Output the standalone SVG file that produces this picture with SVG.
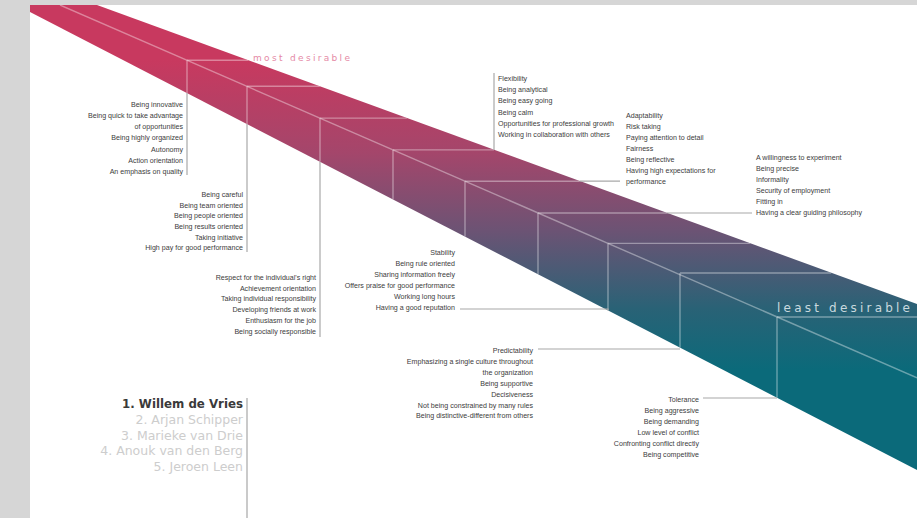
<svg xmlns="http://www.w3.org/2000/svg" width="917" height="518" viewBox="0 0 917 518">
<defs>
<linearGradient id="bandGrad" gradientUnits="userSpaceOnUse" x1="0" y1="60" x2="0" y2="370">
<stop offset="0" stop-color="#c8395f"/>
<stop offset="0.3" stop-color="#a4466b"/>
<stop offset="0.55" stop-color="#6c5374"/>
<stop offset="0.8" stop-color="#2a6276"/>
<stop offset="1" stop-color="#0b6a7a"/>
</linearGradient>
<clipPath id="bandClip"><polygon points="30,5 97,5 917,304 917,470 30,12"/></clipPath>
</defs>
<style>
.bl{stroke:#ffffff;stroke-opacity:0.38;stroke-width:1.4;fill:none}
.ld{stroke:#a8a8a8;stroke-width:1.2;fill:none}
.t{font-family:"Liberation Sans",Arial,sans-serif;font-size:7.1px;fill:#3c3c3c}
.r{text-anchor:end}
.nm{font-family:"DejaVu Sans",Verdana,sans-serif;font-size:12.5px;text-anchor:end;fill:#cdcdcd}
</style>
<rect x="0" y="0" width="917" height="518" fill="#ffffff"/>
<g id="band">
<polygon points="30,5 97,5 917,304 917,470 30,12" fill="url(#bandGrad)"/>
<g clip-path="url(#bandClip)">
<line class="bl" x1="60" y1="5" x2="917" y2="377.8"/>
<path class="bl" d="M187,60.2 V93.1 M187,60.2 H248.2 M247,86.3 V124.1 M247,86.3 H319.8 M320,118.1 V161.8 M320,118.1 H406.9 M393,149.9 V199.5 M393,149.9 H494 M465,181.2 V236.6 M465,181.2 H579.7 M538,213 V274.3 M538,213 H666.9 M608,243.4 V310.5 M608,243.4 H750.2 M680,273 V347.7 M680,273 H831.2 M777,317 V397.7 M777,317 H917"/>
</g>
</g>
<g id="frame">
<rect x="0" y="0" width="30" height="518" fill="#d6d6d6"/>
<rect x="0" y="0" width="917" height="5" fill="#d6d6d6"/>
</g>
<g id="labels">
<text x="253" y="61" font-family="DejaVu Sans,Verdana,sans-serif" font-size="9" fill="#e58aa6" textLength="97" lengthAdjust="spacing">most desirable</text>
<text x="777" y="312" font-family="DejaVu Sans,Verdana,sans-serif" font-size="12" fill="#c9d9df" textLength="133" lengthAdjust="spacing">least desirable</text>
</g>
<g id="connectors">
<line class="ld" x1="187" y1="93" x2="187" y2="175"/>
<line class="ld" x1="247" y1="124" x2="247" y2="252"/>
<line class="ld" x1="320" y1="162" x2="320" y2="337"/>
<line class="ld" x1="494" y1="150" x2="494" y2="73"/>
<line class="ld" x1="579.7" y1="181.2" x2="620" y2="181.2"/>
<line class="ld" x1="666.9" y1="213" x2="752" y2="213"/>
<polyline class="ld" points="460,309 608,309 608,310.5"/>
<line class="ld" x1="538" y1="349" x2="680" y2="349"/>
<line class="ld" x1="703" y1="398" x2="777" y2="398"/>
<line x1="247" y1="398" x2="247" y2="518" stroke="#b8b8b8" stroke-width="1.5"/>
</g>
<g id="rank1" class="t r">
<text x="183" y="106.5">Being innovative</text>
<text x="183" y="117.5">Being quick to take advantage</text>
<text x="183" y="128.5">of opportunities</text>
<text x="183" y="139.5">Being highly organized</text>
<text x="183" y="151.5">Autonomy</text>
<text x="183" y="162.5">Action orientation</text>
<text x="183" y="173.5">An emphasis on quality</text>
</g>
<g id="rank2" class="t r">
<text x="243" y="196.5">Being careful</text>
<text x="243" y="207.5">Being team oriented</text>
<text x="243" y="217.5">Being people oriented</text>
<text x="243" y="228.5">Being results oriented</text>
<text x="243" y="239.5">Taking initiative</text>
<text x="243" y="249.5">High pay for good performance</text>
</g>
<g id="rank3" class="t r">
<text x="316" y="279.5">Respect for the individual's right</text>
<text x="316" y="290.5">Achievement orientation</text>
<text x="316" y="300.5">Taking individual responsibility</text>
<text x="316" y="311.5">Developing friends at work</text>
<text x="316" y="322.5">Enthusiasm for the job</text>
<text x="316" y="333.5">Being socially responsible</text>
</g>
<g id="rank4" class="t">
<text x="498" y="80.5">Flexibility</text>
<text x="498" y="91.5">Being analytical</text>
<text x="498" y="102.5">Being easy going</text>
<text x="498" y="114.5">Being calm</text>
<text x="498" y="125.5">Opportunities for professional growth</text>
<text x="498" y="136.5">Working in collaboration with others</text>
</g>
<g id="rank5" class="t">
<text x="626" y="117.5">Adaptability</text>
<text x="626" y="128.5">Risk taking</text>
<text x="626" y="139.5">Paying attention to detail</text>
<text x="626" y="150.5">Fairness</text>
<text x="626" y="161.5">Being reflective</text>
<text x="626" y="172.5">Having high expectations for</text>
<text x="626" y="183.5">performance</text>
</g>
<g id="rank6" class="t">
<text x="756" y="159.5">A willingness to experiment</text>
<text x="756" y="170.5">Being precise</text>
<text x="756" y="181.5">Informality</text>
<text x="756" y="192.5">Security of employment</text>
<text x="756" y="203.5">Fitting in</text>
<text x="756" y="214.5">Having a clear guiding philosophy</text>
</g>
<g id="rank7" class="t r">
<text x="455" y="254.5">Stability</text>
<text x="455" y="265.5">Being rule oriented</text>
<text x="455" y="276.5">Sharing information freely</text>
<text x="455" y="287.5">Offers praise for good performance</text>
<text x="455" y="298.5">Working long hours</text>
<text x="455" y="309.5">Having a good reputation</text>
</g>
<g id="rank8" class="t r">
<text x="533" y="352.5">Predictability</text>
<text x="533" y="363.5">Emphasizing a single culture throughout</text>
<text x="533" y="374.5">the organization</text>
<text x="533" y="385.5">Being supportive</text>
<text x="533" y="396.5">Decisiveness</text>
<text x="533" y="407.5">Not being constrained by many rules</text>
<text x="533" y="417.5">Being distinctive-different from others</text>
</g>
<g id="rank9" class="t r">
<text x="699" y="401.5">Tolerance</text>
<text x="699" y="412.5">Being aggressive</text>
<text x="699" y="423.5">Being demanding</text>
<text x="699" y="434.5">Low level of conflict</text>
<text x="699" y="445.5">Confronting conflict directly</text>
<text x="699" y="456.5">Being competitive</text>
</g>
<g id="names">
<text class="nm" x="243" y="408" style="fill:#3a3a3a;font-weight:bold;font-size:11.8px">1. Willem de Vries</text>
<text class="nm" x="243" y="424">2. Arjan Schipper</text>
<text class="nm" x="243" y="440">3. Marieke van Drie</text>
<text class="nm" x="243" y="455">4. Anouk van den Berg</text>
<text class="nm" x="243" y="471">5. Jeroen Leen</text>
</g>
</svg>
